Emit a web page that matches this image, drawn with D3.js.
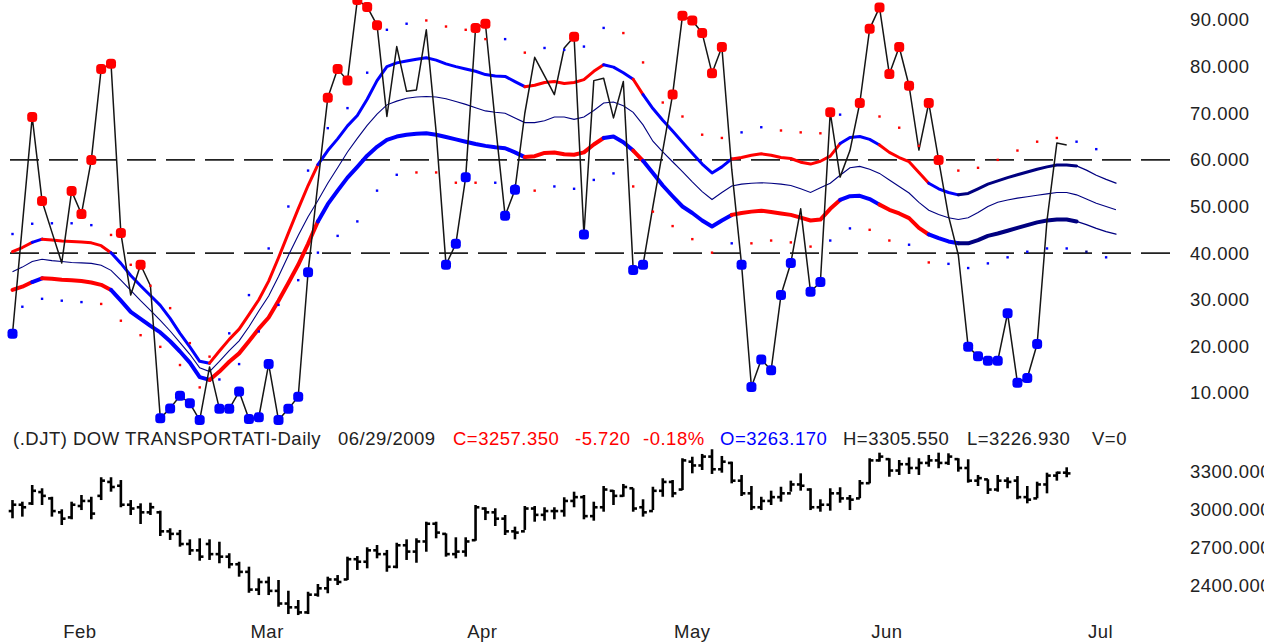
<!DOCTYPE html>
<html><head><meta charset="utf-8">
<script src="https://cdn.jsdelivr.net/npm/d3@7/dist/d3.min.js"></script>
<style>body{margin:0;background:#fff}svg{display:block}</style>
</head><body><svg id="c" width="1277" height="642"></svg>
<script>
// ---------- DATA ----------
// oscillator (one value per trading day, Jan 26 .. Jun 29 2009)
const osc = [22.7,46,69.2,51.2,44.5,37.9,53.3,48.4,60,79.5,
80.6,44.3,31,37.5,33,4.6,6.7,9.4,7.8,4.2,
15.6,6.6,6.6,10.3,4.4,4.8,16.2,4.2,6.6,9.2,
35.9,55,73.3,79.5,77,94.3,92.8,88.9,69.3,84.3,
74.7,75,87.9,66,37.5,42,56.3,88.3,89.2,68,
48,53.6,70,82,78,74,84,86.4,44,77,
77.5,69,76.8,36.4,37.5,50,62,74,90.9,89.9,
87.2,78.6,84.2,58,37.5,11.3,17.2,14.9,31,37.9,
49.5,31.7,33.8,70.2,56.3,62,72.2,88.1,92.7,78.4,
84.2,75.9,62.1,72.2,60,48,39.6,19.9,17.9,16.9,
16.9,27.1,12.2,13.2,20.5,47,63.6,63.2];
// signal markers: r = above band, b = below band, . = none
const signals = ("b.rr..rrrr" + "rr.r.bbbbb" + ".bbbbbbbbb" + "b.rrrrrr.." + "....bbbrr." +
  "bb.....rb." + "...bb..rrr" + "rrr.bbbbbb" + ".bbr..rrrr" + "rr.rr..bbb" + "bbbbb...").split("");

// envelope bands (extend 5 days past the last bar)
const upperBand = [40.3,41.2,42.3,43,42.8,42.6,42.5,42.4,42.2,41.6,
40.1,37.8,35.2,33,30.9,28.8,26,22.8,19.9,16.8,
16.4,19,21.5,23.7,26.8,30,34,39,44.3,49.5,
54.5,59,62,64.5,67.3,69.5,73,77,80,80.8,
81.2,81.6,81.9,81.4,80.6,80,79.5,79,78.3,78,
77.9,76.8,75.7,76,76.6,76.8,76.4,76.6,77.2,79,
80.4,79.9,78.7,77.3,74,71,68.5,66.2,63.8,61.4,
59.1,57.2,58.5,60.2,60.5,61,61.3,61,60.5,60.3,
59.5,59.1,59.7,60.8,63.5,64.8,65,64.4,63.2,61.6,
60.5,59.6,57.3,55,53.8,53,52.5,52.8,53.8,54.8,
55.5,56.2,56.8,57.4,58,58.5,58.9,58.9,58.7,57.8,
56.7,55.8,55];
const midLine = [36,37,38.2,38.7,38.4,38.2,38,37.9,37.8,37.4,
36.3,34.2,32,29.8,27.7,25.6,23.3,20.8,18.3,15.4,
14.6,16.8,19.1,21.2,24.2,27.6,30.8,35,39.5,43.8,
47.8,51.3,55,58.3,61.7,64.6,67.4,69.8,71.8,72.6,
73.2,73.5,73.6,73.5,73.1,72.5,71.9,71.2,70.5,70.2,
70,69,68,68,68.4,69.2,69.2,68.7,69.2,70.6,
72.2,72.4,71.6,70.2,67.5,64,61.7,59.6,57.5,55.3,
53.2,51.5,53,54.4,54.8,55,55.1,55,54.8,54.5,
53.8,53,54,55,56.7,58.3,58.6,58,57.1,55.7,
54.3,52.9,50.9,49.2,48.3,47.6,47.2,47.6,48.7,50,
50.9,51.4,51.8,52.1,52.4,52.7,53,53,52.5,51.6,
50.7,50,49.3];
const lowerBand = [32.1,32.8,33.8,34.6,34.5,34.3,34.2,34,33.7,33.2,
32.1,29.8,27.4,25.9,24.4,23,21.1,18.9,16.5,13.4,
12.8,14.6,16.7,18.5,21.1,23.8,26.2,29.8,33.6,37.5,
42,46.8,50.5,53.4,56.2,58.5,60.9,62.8,64.3,65,
65.4,65.6,65.7,65.4,64.9,64.4,63.9,63.4,63,62.7,
62.5,61.6,60.6,60.8,61.5,61.6,61.2,61.1,61.6,63.3,
64.7,65,63.8,62,59.8,57.2,54.5,52.2,50,48.6,
47,45.7,47,48.2,48.6,48.9,49.1,48.8,48.5,48.2,
47.6,47,47.2,49.5,51.4,52.2,52.3,51.6,50.4,49.3,
48.5,47.5,45.4,44,43.2,42.5,42.1,42.1,42.8,43.7,
44.2,44.8,45.4,46,46.6,47,47.2,47.2,46.8,46.1,
45.3,44.6,44.1];
// band colour per segment: r red, b blue, n navy (projected), t thin navy
const bandColors = ("rr" + "b" + "rrrrrrr" + "bbbbbbbbbb" + "rrrrrrrrrrr" + "bbbbbbbbbbbbbbbbbbbbb" +
  "rrrrrrrr" + "bbb" + "r" + "bbbbbbbbb" + "rrrrrrrrrrr" + "bbbb" + "rrrrr" + "bbb" +
  "nnnnnnnnnnnn" + "tttt").split("");

// small envelope dots: upper on even days, lower on odd days
const upperDots = [44.1,46.3,46.4,46.4,46,43.9,37.5,33,28.2,20.7,17.8,22.8,31,41,50,57.7,66.8,71.1,78.7,87.9,
89.2,89.9,88.6,87.9,85.9,85.9,83,84,83.6,84.3,88.3,87.2,80.9,72.3,69.3,65.4,64.7,65.9,67,66.3,
65.9,65.7,69.7,72,69.3,66.9,63,60,57.7,58.3,60,62,63.9,64.7,63.9,62.3];
const upperDotColors = ("bbbbb" + "rrrrrr" + "bbbbbbbbbb" + "rrrr" + "b" + "r" + "bbbb" + "rrrrrr" + "bb" +
  "rrr" + "b" + "rrrrrrrrrrr" + "bb").split("");
const lowerDots = [28.5,30.2,29.8,29.5,29.1,25.5,22.4,19.9,16,11.2,12.9,16.2,23.2,28.9,34.2,40.1,43.7,46.8,53.4,56.8,
57.3,57.3,55.1,55.1,55.1,54.5,53.4,54.3,53.8,55.7,57.1,54.3,48.9,45.8,43,40.1,42.1,42.1,42.7,42.3,
41.4,42.7,45.3,45,42.7,41.8,38,37.7,36.8,37.8,39.1,40.3,41,41,40.3,39.1];
const lowerDotColors = ("bbbb" + "rrrrrr" + "bbbbbbbbbb" + "rrrr" + "bb" + "r" + "bbbb" + "rrrrr" + "b" +
  "rrrr" + "bb" + "rr" + "b" + "r" + "bbbbbbb" + "n" + "b").split("");

// price bars [high, low, open, close]
const highs = [3047,3034,3166,3140,3073,2974,3034,3087,3073,3227,3227,3205,3047,3021,3026,2963,2824,2811,2737,2745,
2737,2718,2627,2560,2521,2429,2442,2416,2331,2258,2323,2384,2442,2455,2600,2605,2674,2692,2653,2710,
2737,2745,2876,2876,2784,2753,2753,3008,2990,2982,2929,2837,3000,3000,2990,2990,3069,3113,3087,3034,
3158,3126,3174,3140,3053,3152,3219,3205,3377,3389,3411,3448,3395,3350,3245,3158,3073,3121,3152,3200,
3258,3140,3053,3140,3148,3087,3205,3377,3421,3377,3363,3384,3377,3403,3421,3416,3377,3369,3245,3211,
3245,3227,3237,3158,3192,3263,3271,3305.55];
const lows = [2903,2916,3008,3008,2916,2850,2895,2968,2895,3047,3113,2990,2929,2858,2929,2763,2732,2679,2613,2568,
2574,2548,2508,2442,2315,2297,2297,2205,2147,2139,2147,2284,2311,2376,2416,2495,2508,2587,2481,2508,
2574,2552,2639,2745,2600,2587,2600,2726,2889,2842,2771,2737,2811,2876,2884,2895,2916,2990,2895,2884,
2955,3008,3073,2955,2916,2968,3073,3069,3126,3258,3284,3253,3263,3179,3079,2968,2968,3008,3034,3113,
3121,2968,2955,2963,3026,2968,3061,3179,3350,3231,3245,3253,3245,3310,3298,3324,3271,3184,3158,3095,
3113,3140,3053,3021,3061,3100,3200,3226.93];
const opens = [2960,3010,3020,3110,3060,2950,2910,3000,3040,3080,3190,3160,3010,2990,2950,2950,2800,2780,2700,2650,
2700,2620,2600,2540,2480,2340,2400,2330,2230,2200,2160,2300,2350,2420,2420,2580,2560,2650,2620,2520,
2690,2640,2720,2860,2780,2620,2640,2730,2980,2950,2900,2800,2800,2980,2930,2960,2960,3040,3070,2920,
2990,3120,3080,3140,2990,2960,3120,3190,3130,3350,3320,3390,3290,3340,3200,3100,2990,3040,3070,3100,
3170,3130,2990,3010,3100,3060,3060,3180,3360,3370,3280,3330,3300,3340,3360,3340,3370,3300,3200,3210,
3130,3200,3200,3070,3060,3170,3240,3263.17];
const closes = [3010,2990,3120,3080,2960,2900,3010,3040,2940,3200,3150,3010,2980,2950,2990,2800,2780,2700,2650,2600,
2620,2600,2540,2480,2340,2400,2330,2230,2200,2160,2300,2350,2420,2400,2580,2560,2650,2620,2520,2690,
2640,2720,2860,2790,2620,2640,2720,2990,2950,2900,2800,2790,2980,2930,2960,2960,3040,3070,2920,2990,
3130,3080,3150,2980,2950,3120,3190,3100,3360,3320,3390,3290,3350,3200,3100,2990,3040,3070,3100,3170,
3160,2990,3010,3100,3060,3050,3180,3360,3390,3280,3330,3300,3340,3360,3340,3390,3300,3200,3220,3130,
3200,3190,3070,3050,3170,3240,3263,3257.35];

const monthLabels = ["Feb","Mar","Apr","May","Jun","Jul"];
const monthStartDay = [5,24,46,67,87,109];
const oscTicks = [10,20,30,40,50,60,70,80,90];
const priceTicks = [2400,2700,3000,3300];
const levels = [60,40];
const header = ["(.DJT) DOW TRANSPORTATI-Daily","06/29/2009","C=3257.350","-5.720","-0.18%","O=3263.170","H=3305.550","L=3226.930","V=0"];
const headerKind = ["t","t","c","c","c","o","t","t","t"];

// ---------- DRAW ----------
const svg = d3.select("#c");
const FONT = "'Liberation Sans', Arial, sans-serif";
const COL = {r:"#ff0000", b:"#0000ff", n:"#000080", t:"#000080"};

svg.append("defs").append("clipPath").attr("id","lblclip")
  .append("rect").attr("x",0).attr("y",0).attr("width",1264).attr("height",642);

const x = d3.scaleLinear().domain([0,107]).range([12.5,1066.7]);
const yU = d3.scaleLinear().domain([10,90]).range([393,20]);
const yL = d3.scaleLinear().domain([2400,3300]).range([582,468]);

// level dashed lines
svg.append("g").selectAll("line").data(levels).join("line")
  .attr("x1",10).attr("x2",1180)
  .attr("y1",d=>yU(d)).attr("y2",d=>yU(d))
  .attr("stroke","#222").attr("stroke-width",1.6).attr("stroke-dasharray","29,10");

// bands in coloured runs
function drawBand(vals, width){
  const g = svg.append("g");
  let s = 0;
  for(let i=1;i<=bandColors.length;i++){
    if(i===bandColors.length || bandColors[i]!==bandColors[s]){
      const c = bandColors[s];
      const idx = d3.range(s, i+1);
      const line = d3.line().x(k=>x(k)).y(k=>yU(vals[k]));
      g.append("path").attr("d", line(idx)).attr("fill","none")
        .attr("stroke",COL[c]).attr("stroke-width", c==="t"?1.3:width)
        .attr("stroke-linejoin","round").attr("stroke-linecap","round");
      s = i;
    }
  }
}
drawBand(upperBand, 3);
drawBand(lowerBand, 4);

svg.append("path").attr("d", d3.line().x((d,i)=>x(i)).y(d=>yU(d))(midLine))
  .attr("fill","none").attr("stroke","#000080").attr("stroke-width",1.1);

// oscillator line
svg.append("path").attr("d", d3.line().x((d,i)=>x(i)).y(d=>yU(d))(osc))
  .attr("fill","none").attr("stroke","#151515").attr("stroke-width",1.5).attr("stroke-linejoin","round");

// small envelope dots
svg.append("g").selectAll("rect").data(upperDots).join("rect")
  .attr("x",(d,k)=>x(2*k)-1.2).attr("y",d=>yU(d)-1.2).attr("width",2.4).attr("height",2.4)
  .attr("fill",(d,k)=>COL[upperDotColors[k]]);
svg.append("g").selectAll("rect").data(lowerDots).join("rect")
  .attr("x",(d,k)=>x(2*k+1)-1.2).attr("y",d=>yU(d)-1.2).attr("width",2.4).attr("height",2.4)
  .attr("fill",(d,k)=>COL[lowerDotColors[k]]);

// signal markers
const sig = osc.map((v,i)=>({v,i,s:signals[i]})).filter(d=>d.s!==".");
svg.append("g").selectAll("rect").data(sig).join("rect")
  .attr("x",d=>x(d.i)-5).attr("y",d=>yU(d.v)-5).attr("width",10).attr("height",10)
  .attr("rx",3.5).attr("fill",d=>COL[d.s]);

// right axes
const axU = d3.axisRight(yU).tickValues(oscTicks).tickSize(0).tickPadding(0).tickFormat(d3.format(".3f"));
const gU = svg.append("g").attr("transform","translate(1190,0)").call(axU);
const axL = d3.axisRight(yL).tickValues(priceTicks).tickSize(0).tickPadding(0).tickFormat(d3.format(".3f"));
const gLwrap = svg.append("g").attr("clip-path","url(#lblclip)");
const gL = gLwrap.append("g").attr("transform","translate(1190,3.4)").call(axL);
[gU,gL].forEach(g=>{
  g.select(".domain").remove();
  g.selectAll("text").attr("font-family",FONT).attr("font-size",18.5)
    .attr("letter-spacing","0.5px").attr("fill","#222");
});

// header
const hx = [13,338,453,575,643,720,843,967,1092];
const hc = {t:"#222", c:"#ff0000", o:"#0000ff"};
svg.append("g").selectAll("text").data(header).join("text")
  .attr("x",(d,i)=>hx[i]).attr("y",445).text(d=>d)
  .attr("font-family",FONT).attr("font-size",18.5).attr("letter-spacing","0.5px")
  .attr("fill",(d,i)=>hc[headerKind[i]]);

// price bars
const bars = highs.map((h,i)=>({i,h,l:lows[i],o:opens[i],c:closes[i]}));
const gb = svg.append("g").attr("stroke","#000").attr("stroke-width",2.6);
gb.selectAll("line.v").data(bars).join("line").attr("class","v")
  .attr("x1",d=>x(d.i)).attr("x2",d=>x(d.i)).attr("y1",d=>yL(d.h)).attr("y2",d=>yL(d.l));
gb.selectAll("line.o").data(bars).join("line").attr("class","o")
  .attr("x1",d=>x(d.i)-3.8).attr("x2",d=>x(d.i)).attr("y1",d=>yL(d.o)).attr("y2",d=>yL(d.o));
gb.selectAll("line.c").data(bars).join("line").attr("class","c")
  .attr("x1",d=>x(d.i)).attr("x2",d=>x(d.i)+3.8).attr("y1",d=>yL(d.c)).attr("y2",d=>yL(d.c));

// month labels
svg.append("g").selectAll("text").data(monthLabels).join("text")
  .attr("x",(d,i)=>x(monthStartDay[i])+1.5).attr("y",638).text(d=>d)
  .attr("font-family",FONT).attr("font-size",18.5).attr("letter-spacing","0.5px").attr("fill","#222");
</script></body></html>
